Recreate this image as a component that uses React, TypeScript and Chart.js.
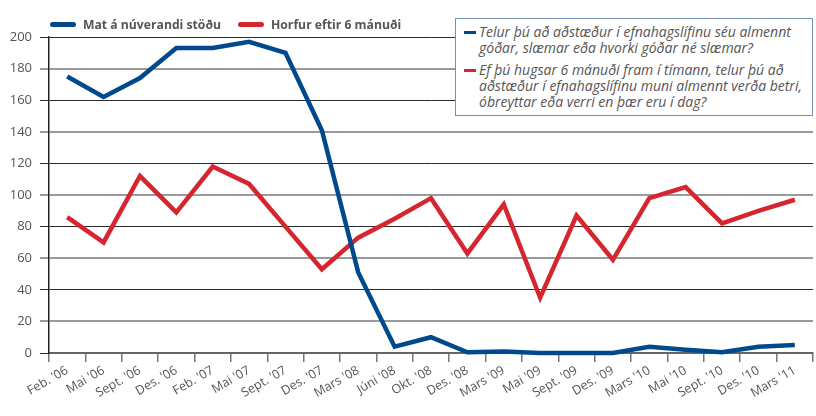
import React, { useEffect, useRef } from "react";
import { Chart, registerables } from "chart.js";

Chart.register(...registerables);

const categories = [
  "Feb. '06", "Mai '06", "Sept. '06", "Des. '06", "Feb. '07", "Mai '07", "Sept. '07",
  "Des. '07", "Mars '08", "Júni '08", "Okt. '08", "Des. '08", "Mars '09", "Mai '09",
  "Sept. '09", "Des. '09", "Mars '10", "Mai '10", "Sept. '10", "Des. '10", "Mars '11",
];

const currentValues = [175, 162, 174, 193, 193, 197, 190, 141, 51, 4, 10, 0.5, 1, 0, 0, 0, 4, 2, 0.5, 4, 5];
const outlookValues = [86, 70, 112, 89, 118, 107, 80, 53, 73, 85, 98, 63, 94, 35, 87, 59, 98, 105, 82, 90, 97];

const seriesNames = ["Mat á núverandi stöðu", "Horfur eftir 6 mánuði"];
const questionTexts = [
  ["Telur þú að aðstæður í efnahagslífinu séu almennt", "góðar, slæmar eða hvorki góðar né slæmar?"],
  ["Ef þú hugsar 6 mánuði fram í tímann, telur þú að", "aðstæður í efnahagslífinu muni almennt verða betri,", "óbreyttar eða verri en þær eru í dag?"],
];

const BLUE = "#00498d";
const RED = "#d5262f";
const FONT = "'Open Sans', sans-serif";

export default function App() {
  const ref = useRef<HTMLCanvasElement>(null);

  useEffect(() => {
    if (!ref.current) return;
    const chart = new Chart(ref.current, {
      type: "line",
      data: {
        labels: categories,
        datasets: [
          { label: seriesNames[0], data: currentValues, borderColor: BLUE, backgroundColor: BLUE, borderWidth: 4.5, pointRadius: 0, tension: 0, clip: false, borderJoinStyle: "miter" },
          { label: seriesNames[1], data: outlookValues, borderColor: RED, backgroundColor: RED, borderWidth: 4.5, pointRadius: 0, tension: 0, clip: false, borderJoinStyle: "miter" },
        ],
      },
      options: {
        responsive: false,
        animation: false,
        layout: { padding: { top: 37, right: 3, left: 0, bottom: 0 } },
        plugins: { legend: { display: false }, tooltip: { enabled: false } },
        scales: {
          x: {
            offset: true,
            grid: { display: true, offset: true, drawOnChartArea: false, drawTicks: true, tickLength: 9, color: "#777", lineWidth: 1.5 },
            border: { display: true, color: "#666", width: 2 },
            ticks: { color: "#555", font: { family: FONT, size: 12.5 }, minRotation: 30, maxRotation: 30, autoSkip: false, padding: 1 },
            afterFit: (s: any) => { s.height = 63; },
          },
          y: {
            min: 0,
            max: 200,
            ticks: { stepSize: 20, color: "#555", font: { family: FONT, size: 13 }, padding: 8 },
            grid: {
              tickLength: 9,
              color: (ctx: any) => (ctx.tick && ctx.tick.value % 40 === 0 ? "#2a2a2a" : "#9a9a9a"),
              lineWidth: (ctx: any) => (ctx.tick && ctx.tick.value % 40 === 0 ? 1 : 2),
            },
            border: { display: true, color: "#222", width: 1.5 },
            afterFit: (s: any) => { s.width = 49; },
          },
        },
      },
    });
    return () => chart.destroy();
  }, []);

  const legendItem = (color: string, text: string, left: number) => (
    <div style={{ position: "absolute", left, top: 14, display: "flex", alignItems: "center", height: 20 }}>
      <div style={{ width: 26, height: 5, borderRadius: 3, background: color, marginRight: 7 }} />
      <span style={{ fontFamily: FONT, fontWeight: 700, fontSize: 12.2, color: "#555", whiteSpace: "nowrap" }}>{text}</span>
    </div>
  );

  return (
    <div style={{ position: "absolute", left: 0, top: 0, width: 816, height: 416, background: "#fff" }}>
      <canvas ref={ref} width={816} height={416} style={{ position: "absolute", left: 0, top: 0 }} />
      {legendItem(BLUE, seriesNames[0], 50)}
      {legendItem(RED, seriesNames[1], 238)}
      <div
        style={{
          position: "absolute", left: 455, top: 18, width: 358, height: 98,
          border: "1px solid #6f8fb8", background: "#fff", boxSizing: "border-box",
          fontFamily: FONT, fontStyle: "italic", fontSize: 14, color: "#555", lineHeight: "16px",
          padding: "5px 0 0 8px",
        }}
      >
        {questionTexts.map((lines, i) => (
          <div key={i} style={{ position: "relative", paddingLeft: 15, marginBottom: i === 0 ? 6 : 0 }}>
            <div style={{ position: "absolute", left: 0, top: 7, width: 12, height: 3, background: i === 0 ? BLUE : RED }} />
            {lines.map((l, j) => (
              <div key={j} style={{ whiteSpace: "nowrap" }}>{l}</div>
            ))}
          </div>
        ))}
      </div>
    </div>
  );
}
